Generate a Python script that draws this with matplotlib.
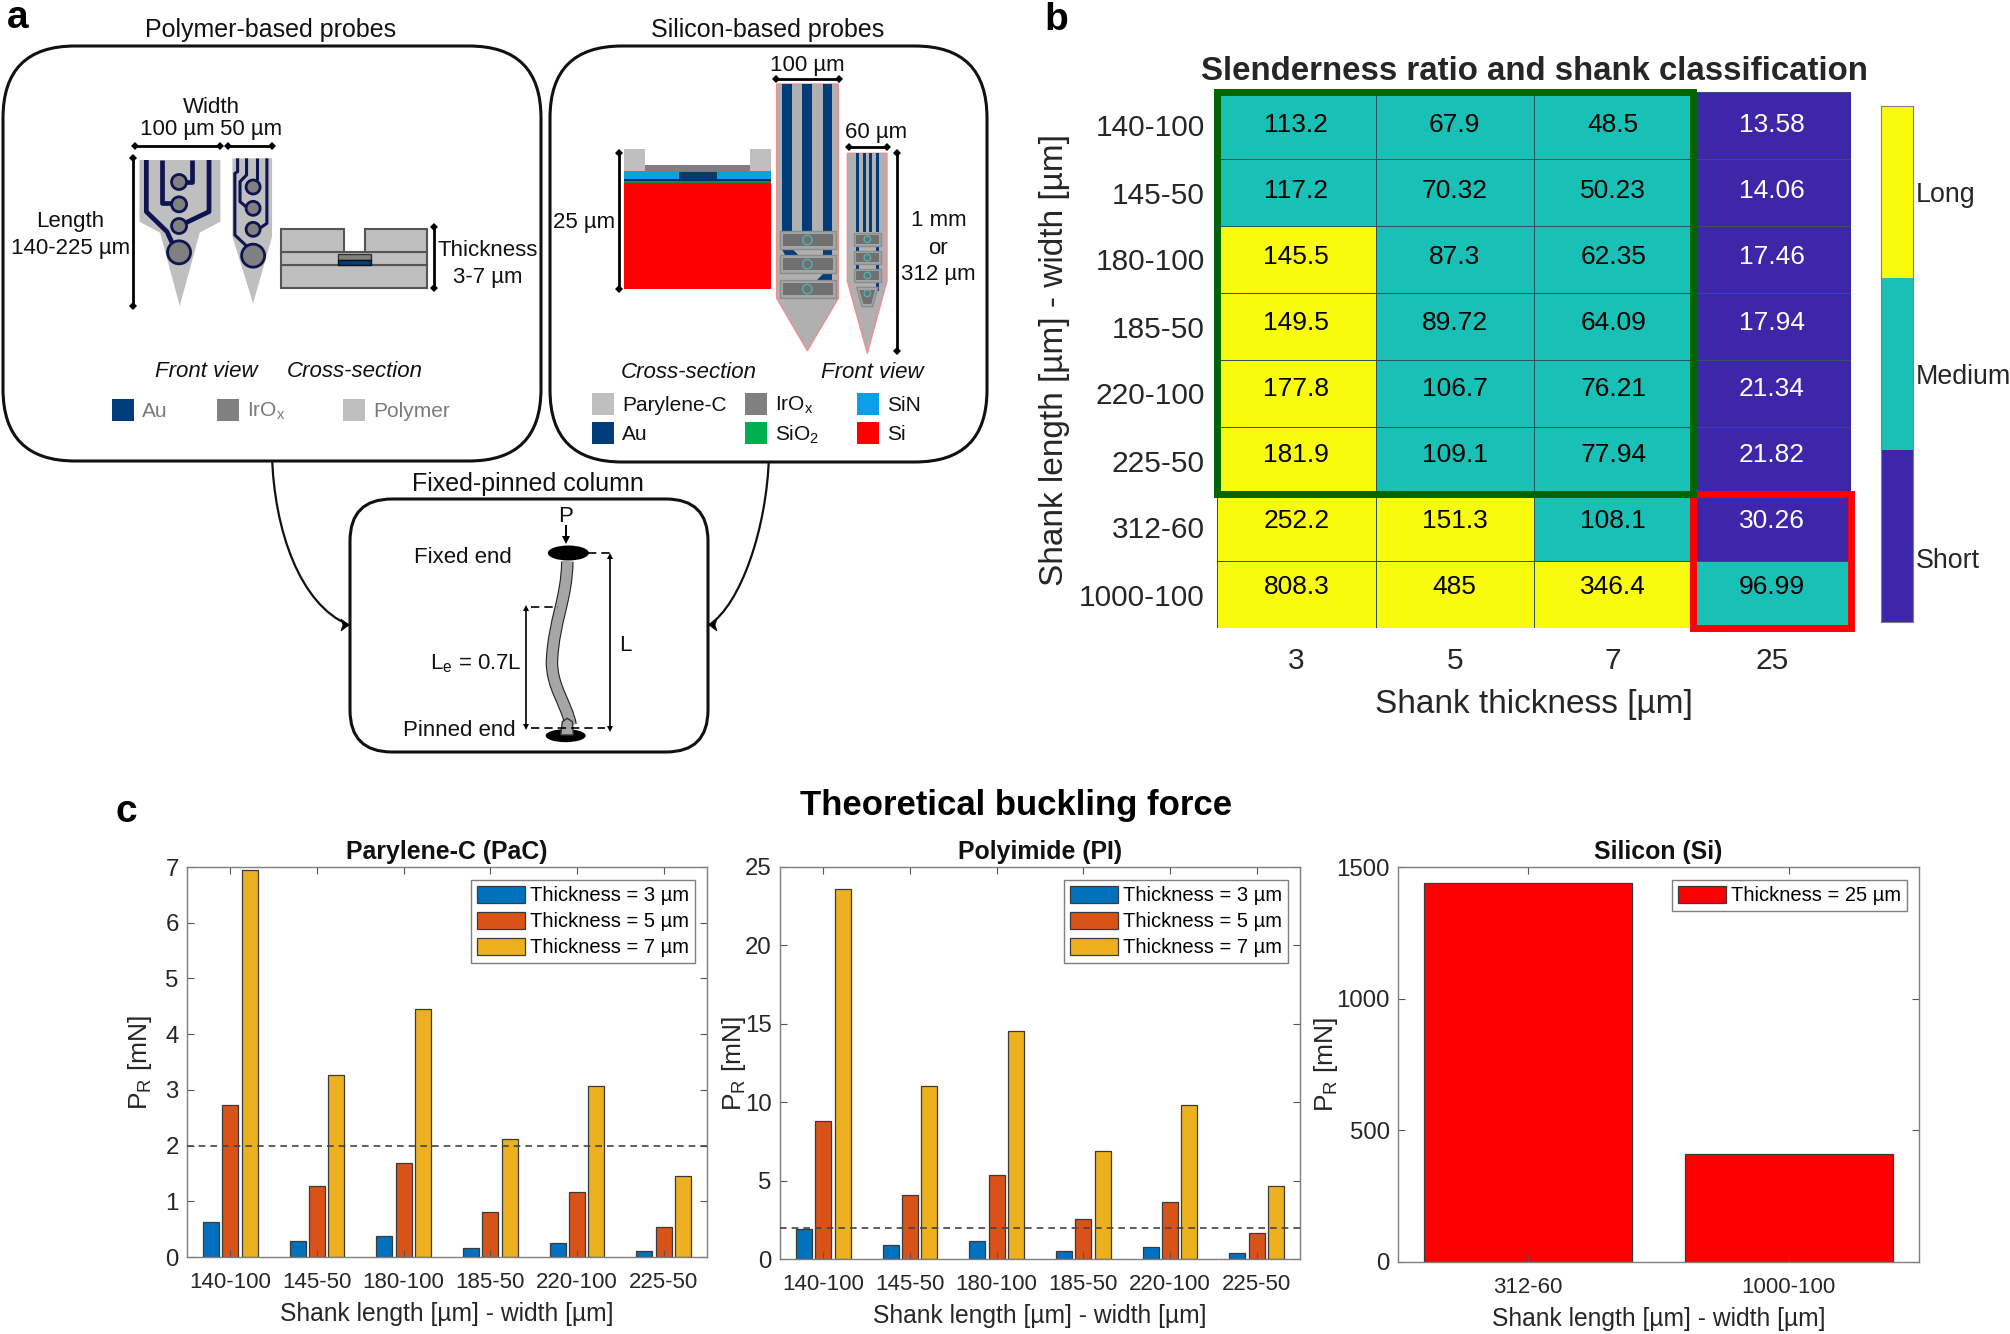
import numpy as np
import matplotlib
matplotlib.use('Agg')
import matplotlib.pyplot as plt
from matplotlib.colors import ListedColormap
from matplotlib.patches import Rectangle, Polygon, Circle, Ellipse, FancyBboxPatch, PathPatch
from matplotlib.path import Path

plt.rcParams['font.family'] = ['Liberation Sans', 'DejaVu Sans']
plt.rcParams['mathtext.default'] = 'regular'

# panel b
lengths_b = ['140-100', '145-50', '180-100', '185-50', '220-100', '225-50', '312-60', '1000-100']
thick_b = ['3', '5', '7', '25']
slender = [['113.2', '67.9', '48.5', '13.58'],
           ['117.2', '70.32', '50.23', '14.06'],
           ['145.5', '87.3', '62.35', '17.46'],
           ['149.5', '89.72', '64.09', '17.94'],
           ['177.8', '106.7', '76.21', '21.34'],
           ['181.9', '109.1', '77.94', '21.82'],
           ['252.2', '151.3', '108.1', '30.26'],
           ['808.3', '485', '346.4', '96.99']]
# 0 short, 1 medium, 2 long
classes = [[1, 1, 1, 0],
           [1, 1, 1, 0],
           [2, 1, 1, 0],
           [2, 1, 1, 0],
           [2, 1, 1, 0],
           [2, 1, 1, 0],
           [2, 2, 1, 0],
           [2, 2, 2, 1]]
class_names = ['Short', 'Medium', 'Long']

# panel c
shanks = ['140-100', '145-50', '180-100', '185-50', '220-100', '225-50']
pac_3 = [0.62, 0.29, 0.37, 0.17, 0.26, 0.11]
pac_5 = [2.72, 1.27, 1.69, 0.80, 1.16, 0.54]
pac_7 = [6.94, 3.27, 4.45, 2.12, 3.07, 1.46]
pi_3 = [1.92, 0.87, 1.13, 0.51, 0.77, 0.36]
pi_5 = [8.79, 4.09, 5.34, 2.55, 3.62, 1.68]
pi_7 = [23.57, 11.02, 14.53, 6.87, 9.83, 4.68]
si_shanks = ['312-60', '1000-100']
si_25 = [1439, 410]

W, H = 2010, 1334
DARK = '#262626'
NAVY = '#0f1450'
AU = '#003b7a'
IROX = '#808080'
POLY = '#bfbfbf'
TXT = 16

fig = plt.figure(figsize=(W / 100, H / 100), dpi=100)


def px_axes(l, t, r, b):
    return fig.add_axes([l / W, 1 - b / H, (r - l) / W, (b - t) / H])


# whole-figure layer for the schematic, in pixels
bg = fig.add_axes([0, 0, 1, 1])
bg.set_xlim(0, W)
bg.set_ylim(H, 0)
bg.axis('off')


def t(x, y, s, size=TXT, **kw):
    kw.setdefault('ha', 'center')
    kw.setdefault('va', 'center')
    kw.setdefault('color', '#111111')
    bg.text(x, y + 1.5, s, fontsize=size, **kw)


def line(pts, color='k', lw=1.5, **kw):
    pts = np.array(pts, dtype=float)
    bg.plot(pts[:, 0], pts[:, 1], color=color, lw=lw, solid_capstyle='butt', **kw)


def dim(p0, p1, lw=2.0, ms=4.5):
    # dimension line with little diamond ends
    line([p0, p1], lw=lw)
    bg.plot([p0[0], p1[0]], [p0[1], p1[1]], 'D', color='k', ms=ms, mew=0)


def rbox(x0, y0, x1, y1, r, lw=2.2):
    bg.add_patch(FancyBboxPatch((x0 + r, y0 + r), x1 - x0 - 2 * r, y1 - y0 - 2 * r,
                                boxstyle='round,pad=%d,rounding_size=%d' % (r, r),
                                fc='white', ec='#111111', lw=lw))


def rect(x0, y0, x1, y1, fc, ec='none', lw=0, **kw):
    bg.add_patch(Rectangle((x0, y0), x1 - x0, y1 - y0, fc=fc, ec=ec, lw=lw, **kw))


# connector curves go under the boxes
for pts, d in [([(272, 455), (274, 530), (300, 605), (349, 625)], 1),
               ([(769, 455), (767, 530), (740, 605), (709, 625)], -1)]:
    p = Path(pts, [Path.MOVETO, Path.CURVE4, Path.CURVE4, Path.CURVE4])
    bg.add_patch(PathPatch(p, fc='none', ec='#111111', lw=1.6))
    x_end = pts[-1][0]
    bg.add_patch(Polygon([(x_end, 625), (x_end - 8 * d, 619), (x_end - 6 * d, 625), (x_end - 8 * d, 631)],
                         fc='k', ec='k', lw=0.5, zorder=3))

rbox(3, 46, 541, 461, 72)
rbox(550, 46, 987, 462, 72)
rbox(350, 499, 708, 752, 42)

t(271, 29, 'Polymer-based probes', 18)
t(768, 29, 'Silicon-based probes', 18)
t(528, 482, 'Fixed-pinned column', 18)
t(18, 17, 'a', 28, weight='bold', color='k')
t(1056, 18, 'b', 28, weight='bold', color='k')
t(126, 811, 'c', 28, weight='bold', color='k')
t(1016, 804, 'Theoretical buckling force', 25, weight='bold', color='k')


def z7(x, y):
    return (x / 2.904, 90 + y / 3)


def poly7(pts, **kw):
    bg.add_patch(Polygon([z7(*p) for p in pts], **kw))


poly7([(405, 210), (640, 210), (640, 395), (580, 428), (522, 648), (465, 428), (405, 395)], fc=POLY, ec='none')
poly7([(675, 205), (790, 205), (790, 440), (735, 640), (675, 440)], fc=POLY, ec='none')
for tr in [[(425, 210), (425, 365), (485, 425), (505, 470)],
           [(470, 210), (470, 340), (520, 340)],
           [(558, 210), (558, 275), (520, 275)],
           [(607, 210), (607, 365), (520, 408)]]:
    line([z7(*p) for p in tr], color=NAVY, lw=3.4)
for tr in [[(690, 205), (690, 245), (682, 250), (682, 435), (718, 470)],
           [(716, 205), (716, 255), (697, 275), (697, 335), (720, 355)],
           [(745, 205), (745, 270)],
           [(775, 205), (775, 400), (750, 418)]]:
    line([z7(*p) for p in tr], color=NAVY, lw=2.2)
for x, y, r in [(520, 276, 7.5), (520, 343, 7.5), (520, 408, 7.5), (520, 487, 11.5),
                (735, 291, 7), (735, 355, 7), (735, 418, 7), (735, 497, 11.5)]:
    bg.add_patch(Circle(z7(x, y), r, fc=IROX, ec=NAVY, lw=2, zorder=3))

# polymer cross-section
for x0, y0, x1, y1 in [(815, 525, 1240, 593), (815, 485, 1240, 525), (815, 416, 998, 485), (1060, 416, 1240, 485)]:
    a, b = z7(x0, y0), z7(x1, y1)
    rect(a[0], a[1], b[0], b[1], POLY, ec='#555555', lw=1.5)
a, b = z7(982, 493), z7(1077, 510)
rect(a[0], a[1], b[0], b[1], IROX, ec='#333333', lw=1)
a, b = z7(982, 510), z7(1077, 525)
rect(a[0], a[1], b[0], b[1], AU, ec='#111111', lw=1)

dim(z7(392, 168), z7(640, 168))
dim(z7(662, 168), z7(790, 168))
dim(z7(385, 203), z7(385, 648))
dim(z7(1260, 410), z7(1260, 595))
t(*z7(615, 48), 'Width')
t(*z7(515, 115), '100 µm')
t(*z7(728, 115), '50 µm')
t(*z7(205, 390), 'Length')
t(*z7(205, 472), '140-225 µm')
t(*z7(1415, 478), 'Thickness')
t(*z7(1415, 558), '3-7 µm')
t(*z7(598, 840), 'Front view', style='italic')
t(*z7(1030, 840), 'Cross-section', style='italic')

for x0, fc, s in [(112, AU, 'Au'), (217, IROX, 'IrO$_x$'), (343, POLY, 'Polymer')]:
    rect(x0, 399, x0 + 22, 421, fc)
    t(x0 + 30, 410, s, 15, ha='left', color='#7a7a7a')


# silicon probes
def z8(x, y):
    return (540 + x / 3, 50 + y / 3)


def rect8(x0, y0, x1, y1, fc, **kw):
    a, b = z8(x0, y0), z8(x1, y1)
    rect(a[0], a[1], b[0], b[1], fc, **kw)


def poly8(pts, **kw):
    bg.add_patch(Polygon([z8(*p) for p in pts], **kw))


rect8(252, 398, 694, 718, '#ff0000')
rect8(252, 392, 694, 398, '#2e7d46')
rect8(252, 386, 694, 392, '#123050')
rect8(252, 362, 694, 386, '#0a9fe6')
rect8(417, 366, 530, 386, '#0b3a68')
rect8(290, 346, 658, 362, '#7f7f7f')
rect8(252, 297, 315, 362, POLY)
rect8(631, 297, 694, 362, POLY)

SHANK = '#b0b0b0'
poly8([(710, 102), (895, 102), (895, 745), (802, 902), (710, 745)], fc=SHANK, ec='#ef8f8f', lw=1)
for x0, x1 in [(727, 757), (787, 817), (848, 877)]:
    rect8(x0, 102, x1, 542, AU)
poly8([(727, 600), (760, 600), (775, 615), (735, 615)], fc=AU, ec='none')
rect8(848, 600, 877, 615, AU)
poly8([(850, 672), (877, 672), (877, 689), (832, 689)], fc=AU, ec='none')
for y0, y1 in [(542, 598), (615, 670), (689, 745)]:
    rect8(720, y0, 887, y1, '#a6a6a6', ec='#8c8c8c', lw=1)
    rect8(728, y0 + 10, 878, y1 - 10, '#707070')
    bg.add_patch(Circle(z8(802, (y0 + y1) / 2), 4.7, fc='none', ec='#4fb3b3', lw=1))

poly8([(922, 310), (1041, 310), (1041, 693), (982, 910), (922, 693)], fc=SHANK, ec='#ef8f8f', lw=1)
for x0, x1 in [(947, 957), (968, 977), (987, 997), (1007, 1016)]:
    rect8(x0, 310, x1, 545, AU)
for x0, y0, x1, y1 in [(947, 590, 957, 602), (1007, 590, 1016, 602), (947, 645, 957, 656), (1007, 645, 1016, 656), (1007, 697, 1016, 722)]:
    rect8(x0, y0, x1, y1, AU)
for y0, y1 in [(549, 587), (604, 642), (658, 695)]:
    rect8(943, y0, 1022, y1, '#a6a6a6', ec='#8c8c8c', lw=1)
    rect8(949, y0 + 6, 1016, y1 - 6, '#707070')
    bg.add_patch(Circle(z8(982, (y0 + y1) / 2), 3.3, fc='none', ec='#4fb3b3', lw=1))
poly8([(950, 712), (1014, 712), (998, 770), (966, 770)], fc='#a6a6a6', ec='#8c8c8c', lw=1)
poly8([(958, 720), (1005, 720), (994, 762), (970, 762)], fc='#707070', ec='none')
bg.add_patch(Circle(z8(982, 730), 3.3, fc='none', ec='#4fb3b3', lw=1))

dim(z8(708, 87), z8(896, 87))
dim(z8(927, 290), z8(1042, 290))
dim(z8(1072, 310), z8(1072, 902))
dim(z8(238, 310), z8(238, 718))
t(*z8(802, 42), '100 µm')
t(*z8(1008, 243), '60 µm')
t(*z8(133, 513), '25 µm')
t(*z8(1195, 508), '1 mm')
t(*z8(1195, 590), 'or')
t(*z8(1195, 670), '312 µm')
t(689, 371, 'Cross-section', style='italic')
t(872, 371, 'Front view', style='italic')

for x0, y0, fc, s in [(592, 393, POLY, 'Parylene-C'), (592, 422, AU, 'Au'),
                      (745, 393, IROX, 'IrO$_x$'), (745, 422, '#00b050', 'SiO$_2$'),
                      (857, 393, '#0a9fe6', 'SiN'), (857, 422, '#ff0000', 'Si')]:
    rect(x0, y0, x0 + 22, y0 + 22, fc)
    t(x0 + 30, y0 + 11, s, 15, ha='left')


# fixed-pinned column
def z2(x, y):
    return (250 + x / 3, 460 + y / 3)


curve = Path([z2(952, 305), z2(950, 420), z2(912, 480), z2(906, 600), z2(903, 680), z2(950, 730), z2(962, 795)],
             [Path.MOVETO] + [Path.CURVE4] * 6)
bg.add_patch(PathPatch(curve, fc='none', ec='#222222', lw=9, capstyle='butt'))
bg.add_patch(PathPatch(curve, fc='none', ec='#a6a6a6', lw=7.4, capstyle='butt'))
bg.add_patch(Ellipse(z2(955, 279), 41, 15, fc='k', zorder=3))
bg.add_patch(Ellipse(z2(947, 827), 40, 13, fc='k', zorder=3))
bg.add_patch(Polygon([z2(*p) for p in [(932, 825), (937, 785), (952, 775), (967, 785), (970, 825)]],
                     fc='#a6a6a6', ec='#333333', lw=1, zorder=4))
dash = dict(color='k', lw=1.2, ls=(0, (5, 3)))
bg.plot(*zip(z2(1015, 279), z2(1082, 279)), **dash)
bg.plot(*zip(z2(842, 440), z2(925, 440)), **dash)
bg.plot(*zip(z2(842, 805), z2(1065, 805)), **dash, zorder=5)
for x, y0, y1 in [(1081, 288, 808), (828, 445, 802)]:
    line([z2(x, y0), z2(x, y1)], lw=1.2)
    bg.plot(*z2(x, y0), '^', color='k', ms=5, mew=0)
    bg.plot(*z2(x, y1), 'v', color='k', ms=5, mew=0)
line([z2(948, 195), z2(948, 240)], lw=1.4)
bg.plot(*z2(948, 240), 'v', color='k', ms=6, mew=0)
t(*z2(948, 165), 'P')
t(*z2(638, 288), 'Fixed end')
t(*z2(628, 808), 'Pinned end')
t(*z2(676, 608), 'L$_e$ = 0.7L')
t(*z2(1127, 552), 'L')

bg.set_xlim(0, W)
bg.set_ylim(H, 0)

# panel b heatmap
cmap = ListedColormap(['#3e26a8', '#19c0b5', '#f9fb0e'])
hm = px_axes(1217, 92, 1851, 628)
hm.pcolormesh(np.array(classes), cmap=cmap, vmin=-0.5, vmax=2.5, edgecolors='#2b5560', linewidth=0.6)
hm.set_ylim(8, 0)
hm.set_xticks(np.arange(len(thick_b)) + 0.5, thick_b)
hm.set_yticks(np.arange(len(lengths_b)) + 0.5, lengths_b)
hm.tick_params(length=0, labelsize=21.5, colors=DARK)
hm.tick_params(axis='x', pad=14)
hm.tick_params(axis='y', pad=9)
for s in hm.spines.values():
    s.set_visible(False)
for i in range(len(lengths_b)):
    for j in range(len(thick_b)):
        hm.text(j + 0.5, i * 0.985 + 0.49, slender[i][j], ha='center', va='center', fontsize=19,
                color='white' if classes[i][j] == 0 else 'k')
hm.add_patch(Rectangle((3, 6), 1, 2, fc='none', ec='#ff0000', lw=5, clip_on=False, joinstyle='miter', zorder=4))
hm.add_patch(Rectangle((0, 0), 3, 6, fc='none', ec='#006400', lw=5, clip_on=False, joinstyle='miter', zorder=5))
hm.set_xlabel('Shank thickness [µm]', fontsize=24, color=DARK, labelpad=10)
hm.set_ylabel('Shank length [µm] - width [µm]', fontsize=24, color=DARK, labelpad=6)
hm.set_title('Slenderness ratio and shank classification', fontsize=23.8, weight='bold', color=DARK, pad=9)

cb = px_axes(1881, 106, 1913, 622)
cb.imshow(np.arange(3).reshape(-1, 1), cmap=cmap, aspect='auto', origin='lower', extent=[0, 1, 0, 3])
cb.set_xticks([])
cb.yaxis.tick_right()
cb.set_yticks([0.37, 1.44, 2.5], class_names)
cb.tick_params(length=0, labelsize=19.3, colors=DARK, pad=2)
for s in cb.spines.values():
    s.set_color('#7f7f7f')
    s.set_linewidth(0.8)


# panel c bars
def style(ax, title, ylabel_x):
    ax.set_title(title, fontsize=17.9, weight='bold', color='#111111', pad=5.5)
    ax.set_xlabel('Shank length [µm] - width [µm]', fontsize=17.7, color=DARK, labelpad=6)
    ax.set_ylabel('P$_R$ [mN]', fontsize=19, color=DARK)
    ax.yaxis.set_label_coords(ylabel_x, 0.5)
    ax.tick_params(axis='both', direction='in', top=True, right=True, length=5, width=0.8,
                   color='#555555', labelcolor=DARK)
    ax.tick_params(axis='x', pad=11, labelsize=16)
    ax.tick_params(axis='y', pad=6, labelsize=17.3)
    for s in ax.spines.values():
        s.set_color('#7f7f7f')
        s.set_linewidth(1.0)


def grouped(ax, s3, s5, s7, ymax, yticks, title, ylabel_x):
    x = np.arange(1, len(shanks) + 1)
    for off, vals, c, th in [(-0.223, s3, '#0072bd', 3), (0, s5, '#d95319', 5), (0.223, s7, '#edb120', 7)]:
        ax.bar(x + off, vals, 0.183, color=c, edgecolor='#3a3a3a', linewidth=0.9, label='Thickness = %d µm' % th)
    ax.axhline(2, color='#444444', lw=1.2, ls=(0, (4, 3)), zorder=5)
    ax.set_xlim(0.5, 6.5)
    ax.set_ylim(0, ymax)
    ax.set_xticks(x, shanks)
    ax.set_yticks(yticks)
    style(ax, title, ylabel_x)
    ax.legend(loc='upper right', bbox_to_anchor=(0.977, 0.967), borderaxespad=0, fontsize=14.5, fancybox=False,
              framealpha=1, edgecolor='#7f7f7f', handlelength=2.4, handleheight=0.95, handletextpad=0.25,
              labelspacing=0.32, borderpad=0.28)


ax1 = px_axes(187, 867, 707, 1257)
grouped(ax1, pac_3, pac_5, pac_7, 7, range(8), 'Parylene-C (PaC)', -0.064)
ax2 = px_axes(780, 867, 1300, 1259)
grouped(ax2, pi_3, pi_5, pi_7, 25, range(0, 30, 5), 'Polyimide (PI)', -0.062)

ax3 = px_axes(1398, 867, 1919, 1262)
ax3.bar([1, 2], si_25, 0.8, color='#ff0000', edgecolor='#3a3a3a', linewidth=0.9, label='Thickness = 25 µm')
ax3.set_xlim(0.5, 2.5)
ax3.set_ylim(0, 1500)
ax3.set_xticks([1, 2], si_shanks)
ax3.set_yticks([0, 500, 1000, 1500])
style(ax3, 'Silicon (Si)', -0.112)
ax3.legend(loc='upper right', bbox_to_anchor=(0.977, 0.967), borderaxespad=0, fontsize=14.5, fancybox=False,
           framealpha=1, edgecolor='#7f7f7f', handlelength=2.4, handleheight=0.95, handletextpad=0.25,
           borderpad=0.28)

fig.savefig('out.png', dpi=100)
